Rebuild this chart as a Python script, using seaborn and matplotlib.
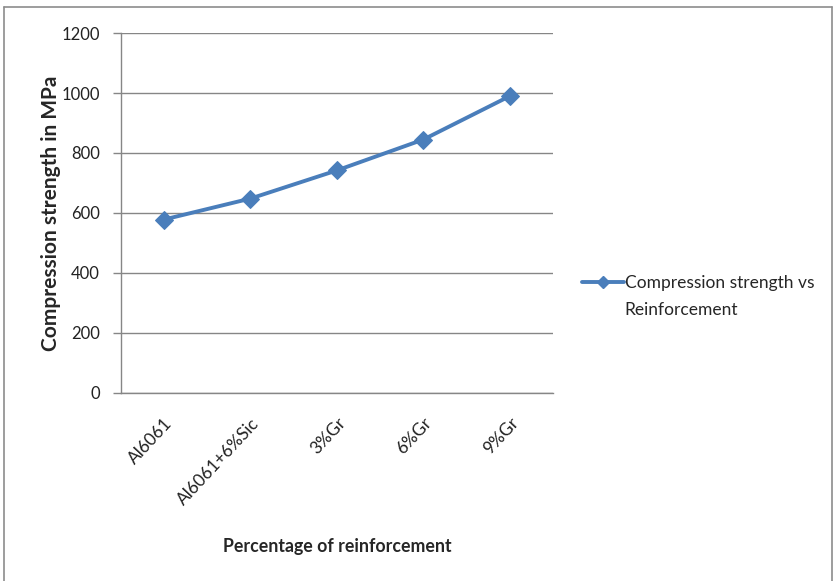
import pandas as pd
import matplotlib
matplotlib.use('Agg')
import matplotlib.pyplot as plt
from matplotlib.lines import Line2D
import seaborn as sns

# chart data
categories = ['Al6061', 'Al6061+6%Sic', '3%Gr', '6%Gr', '9%Gr']
strength = [578, 648, 742, 845, 990]
legend_lines = ['Compression strength vs', 'Reinforcement']

df = pd.DataFrame({'Reinforcement': categories, 'Strength': strength})

sns.set_theme(style='white')
plt.rcParams['font.family'] = ['Lato', 'DejaVu Sans']

blue = '#4a7ebb'
grey = '#868686'

fig = plt.figure(figsize=(8.33, 5.81), dpi=100)
ax = fig.add_axes([0.145, 0.324, 0.519, 0.619])

sns.lineplot(data=df, x='Reinforcement', y='Strength', ax=ax, color=blue,
             linewidth=2.8, marker='D', markersize=9.5, markeredgecolor=blue,
             sort=False, legend=False)

ax.set_xlim(-0.5, len(categories) - 0.5)
ax.set_ylim(0, 1200)
ax.set_yticks(range(0, 1201, 200))
ax.grid(axis='y', color=grey, linewidth=1)
ax.grid(axis='x', visible=False)

for side in ['top', 'right']:
    ax.spines[side].set_visible(False)
for side in ['left', 'bottom']:
    ax.spines[side].set_color(grey)
    ax.spines[side].set_linewidth(1)

ax.tick_params(axis='y', which='both', left=True, length=6, width=1, color=grey,
               labelsize=12, pad=9, labelcolor='#222222')
ax.tick_params(axis='x', bottom=False, labelsize=12.5, pad=10, labelcolor='#222222')
plt.setp(ax.get_xticklabels(), rotation=47, ha='right', rotation_mode='anchor')

ax.set_xlabel('Percentage of reinforcement', fontsize=12.8, fontweight='bold', labelpad=22)
ax.set_ylabel('Compression strength in MPa', fontsize=15, fontweight='bold', labelpad=0)

# legend: line-with-diamond handle beside the first text line
handles = [Line2D([], [], color=blue, linewidth=2.8, marker='D', markersize=6),
           Line2D([], [], linestyle='none')]
leg = ax.legend(handles, legend_lines, loc='center left', bbox_to_anchor=(1.067, 0.268),
                frameon=False, fontsize=12.5, handlelength=2.4, handletextpad=0.05,
                borderpad=0, borderaxespad=0, labelspacing=0.65)

# grey chart-area border (left, top, right)
W, H = 833, 581
for xs, ys in [([4, 4], [7, 581]), ([4, 832], [7, 7]), ([832, 832], [7, 581])]:
    fig.add_artist(Line2D([x / W for x in xs], [1 - y / H for y in ys],
                          transform=fig.transFigure, color='#8c8c8c', linewidth=1.2))

plt.savefig('out.png', dpi=100)
print("Chart saved!")
